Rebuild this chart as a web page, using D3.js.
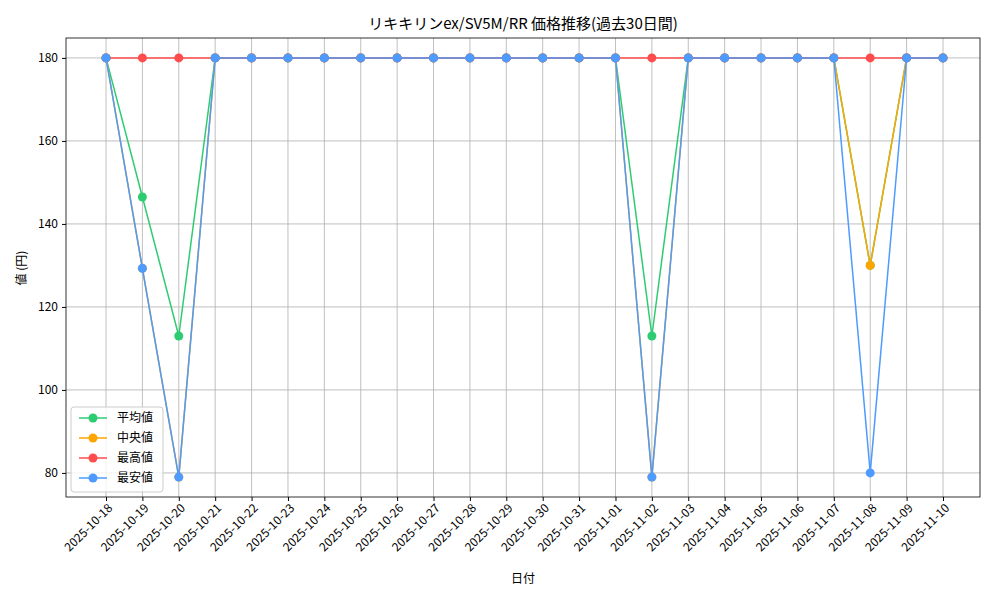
<!DOCTYPE html><html><head><meta charset="utf-8"><script src="https://cdn.jsdelivr.net/npm/d3@7"></script>
<style>body{margin:0;background:#fff}text{font-family:"Noto Sans CJK JP","DejaVu Sans",sans-serif}</style></head><body><svg id="c" width="1000" height="600"></svg><script>
const dates=["2025-10-18","2025-10-19","2025-10-20","2025-10-21","2025-10-22","2025-10-23","2025-10-24","2025-10-25","2025-10-26","2025-10-27","2025-10-28","2025-10-29","2025-10-30","2025-10-31","2025-11-01","2025-11-02","2025-11-03","2025-11-04","2025-11-05","2025-11-06","2025-11-07","2025-11-08","2025-11-09","2025-11-10"];
const meanV=[180,146.5,113,180,180,180,180,180,180,180,180,180,180,180,180,113,180,180,180,180,180,130,180,180];
const medianV=[180,129.3,79,180,180,180,180,180,180,180,180,180,180,180,180,79,180,180,180,180,180,130,180,180];
const maxV=[180,180,180,180,180,180,180,180,180,180,180,180,180,180,180,180,180,180,180,180,180,180,180,180];
const minV=[180,129.3,79,180,180,180,180,180,180,180,180,180,180,180,180,79,180,180,180,180,180,80,180,180];
const yTicks=[80,100,120,140,160,180];
const series=[{n:"平均値",v:meanV,c:"#2ecc71"},{n:"中央値",v:medianV,c:"#ffa500"},{n:"最高値",v:maxV,c:"#ff4d4d"},{n:"最安値",v:minV,c:"#4d9bff"}];
const L=66,R=980,T=38,B=497;
const svg=d3.select("#c");
const x=d3.scalePoint().domain(dates).range([106,943]);
const y=d3.scaleLinear().domain([74.2,184.8]).range([B,T]);
const g=svg.append("g");
g.selectAll(".gx").data(dates).join("line").attr("x1",d=>x(d)).attr("x2",d=>x(d)).attr("y1",T).attr("y2",B).attr("stroke","#b0b0b0").attr("stroke-width",0.8);
g.selectAll(".gy").data(yTicks).join("line").attr("x1",L).attr("x2",R).attr("y1",d=>y(d)).attr("y2",d=>y(d)).attr("stroke","#b0b0b0").attr("stroke-width",0.8);
const ax=svg.append("g").attr("transform",`translate(0,${B})`).call(d3.axisBottom(x).tickSize(4).tickPadding(3));
ax.select(".domain").remove();
ax.selectAll("text").attr("font-size",12).attr("fill","#000").attr("text-anchor","end").attr("transform","rotate(-45)").attr("dx","-0.3em").attr("dy","0.5em");
const ay=svg.append("g").attr("transform",`translate(${L},0)`).call(d3.axisLeft(y).tickValues(yTicks).tickSize(4).tickPadding(4));
ay.select(".domain").remove();ay.selectAll("text").attr("font-size",12).attr("fill","#000");
svg.append("rect").attr("x",L).attr("y",T).attr("width",R-L).attr("height",B-T).attr("fill","none").attr("stroke","#000").attr("stroke-width",0.8);
series.forEach(s=>{
 svg.append("path").datum(s.v).attr("d",d3.line().x((d,i)=>x(dates[i])).y(d=>y(d))).attr("fill","none").attr("stroke",s.c).attr("stroke-width",1.5);
 svg.selectAll(null).data(s.v).join("circle").attr("cx",(d,i)=>x(dates[i])).attr("cy",d=>y(d)).attr("r",4.5).attr("fill",s.c);
});
svg.append("text").attr("x",523).attr("y",29).attr("text-anchor","middle").attr("font-size",15).text("リキキリンex/SV5M/RR 価格推移(過去30日間)");
svg.append("text").attr("x",523).attr("y",583).attr("text-anchor","middle").attr("font-size",12).text("日付");
svg.append("text").attr("transform","translate(26,268) rotate(-90)").attr("text-anchor","middle").attr("font-size",12).text("値 (円)");
const lg=svg.append("g");
lg.append("rect").attr("x",71).attr("y",407).attr("width",92).attr("height",85).attr("rx",3).attr("fill","#fff").attr("fill-opacity",0.8).attr("stroke","#ccc");
series.forEach((s,i)=>{const yy=418+i*20;
 lg.append("line").attr("x1",79).attr("x2",107).attr("y1",yy).attr("y2",yy).attr("stroke",s.c).attr("stroke-width",1.5);
 lg.append("circle").attr("cx",93).attr("cy",yy).attr("r",4.5).attr("fill",s.c);
 lg.append("text").attr("x",117).attr("y",yy+4).attr("font-size",12).text(s.n);});
</script></body></html>
